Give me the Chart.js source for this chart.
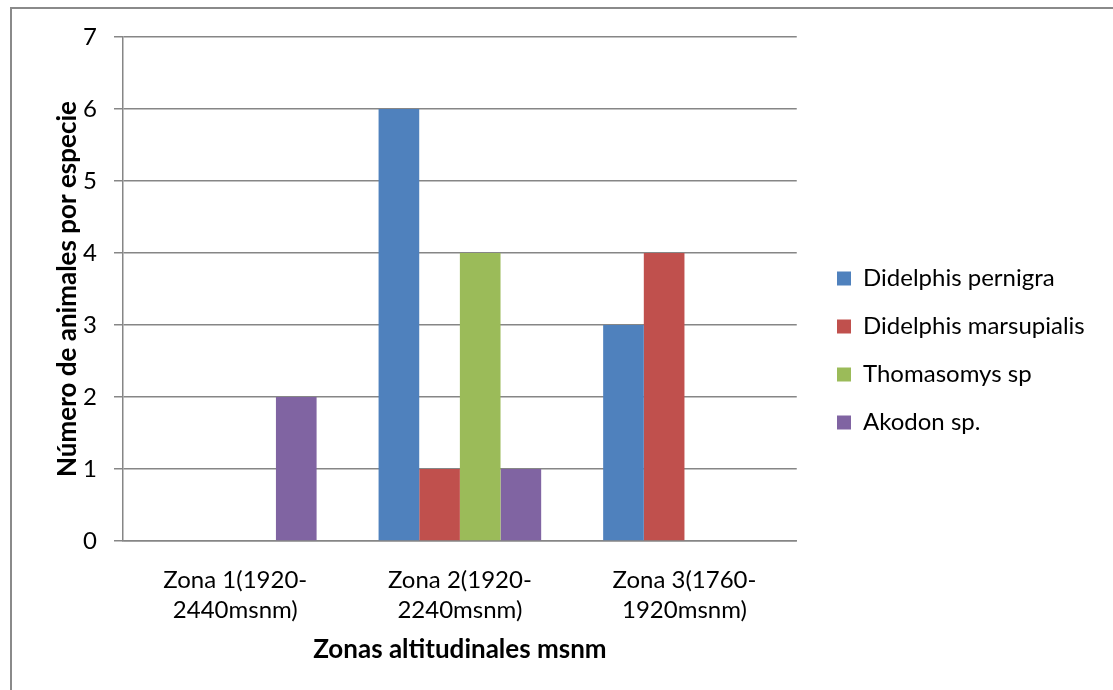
<!DOCTYPE html>
<html>
<head>
<meta charset="utf-8">
<script src="https://cdn.jsdelivr.net/npm/chart.js@4/dist/chart.umd.min.js"></script>
<style>
  html, body { margin: 0; padding: 0; background: #fff; }
  #wrap { position: relative; width: 1113px; height: 690px; }
  #frame { position: absolute; left: 10px; top: 7px; width: 1200px; height: 800px;
           border-left: 2px solid #8a8a8a; border-top: 2px solid #8a8a8a; }
  canvas { position: absolute; left: 0; top: 0; }
</style>
</head>
<body>
<div id="wrap">
  <div id="frame"></div>
  <canvas id="myChart" width="1113" height="690"></canvas>
</div>
<script>
// datos del gráfico
const zonas = [
  ['Zona 1(1920-', '2440msnm)'],
  ['Zona 2(1920-', '2240msnm)'],
  ['Zona 3(1760-', '1920msnm)']
];
const pernigra = [0, 6, 3];
const marsupialis = [0, 1, 4];
const thomasomys = [0, 4, 0];
const akodon = [2, 1, 0];
const yTicks = [0, 1, 2, 3, 4, 5, 6, 7];

const fuente = 'Lato, "Open Sans", sans-serif';
const gris = '#868686';

// mueve la leyenda a su sitio (como en Excel)
const moverLeyenda = {
  id: 'moverLeyenda',
  afterLayout(chart) {
    const lg = chart.legend;
    if (!lg) return;
    lg.left = 813;
    lg.right = chart.width;
    lg.top -= 3;
    lg.bottom -= 3;
  }
};

var ctx = document.getElementById('myChart').getContext('2d');

var config = {
  type: 'bar',
  data: {
    labels: zonas,
    datasets: [
      { label: 'Didelphis pernigra', data: pernigra, backgroundColor: '#4F81BD' },
      { label: 'Didelphis marsupialis', data: marsupialis, backgroundColor: '#C0504D' },
      { label: 'Thomasomys sp', data: thomasomys, backgroundColor: '#9BBB59' },
      { label: 'Akodon sp.', data: akodon, backgroundColor: '#8064A2' }
    ]
  },
  options: {
    responsive: false,
    animation: false,
    barPercentage: 1,
    categoryPercentage: 0.724,
    layout: { padding: { left: 40, top: 37, right: 64, bottom: 20 } },
    plugins: {
      tooltip: { enabled: false },
      legend: {
        position: 'right',
        labels: {
          color: '#000',
          boxWidth: 14,
          boxHeight: 14,
          padding: 24,
          font: { family: fuente, size: 24 }
        }
      }
    },
    scales: {
      x: {   // eje de categorías
        grid: { display: false, drawTicks: false },
        border: { display: true, color: gris, width: 1.5 },
        ticks: {
          color: '#000',
          padding: 24,
          maxRotation: 0,
          font: { family: fuente, size: 24, lineHeight: 1.25 }
        },
        title: {
          display: true,
          text: 'Zonas altitudinales msnm',
          color: '#000',
          padding: { top: 0, bottom: 5 },
          font: { family: fuente, size: 26, weight: 'bold' }
        },
        afterFit(scale) { scale.height = 690 - 541 - 20; }
      },
      y: {   // eje de valores
        min: 0,
        max: yTicks[yTicks.length - 1],
        afterBuildTicks(scale) { scale.ticks = yTicks.map(v => ({ value: v })); },
        grid: { color: gris, lineWidth: 1.5, tickLength: 9, drawTicks: true },
        border: { display: true, color: gris, width: 1.5 },
        ticks: {
          color: '#000',
          padding: 17,
          font: { family: fuente, size: 24 }
        },
        title: {
          display: true,
          text: 'Número de animales por especie',
          color: '#000',
          padding: { top: 12, bottom: 0 },
          font: { family: fuente, size: 26, weight: 'bold' }
        },
        afterFit(scale) { scale.width = 123 - 40; }
      }
    }
  },
  plugins: [moverLeyenda]
};

var chart = new Chart(ctx, config);
</script>
</body>
</html>
